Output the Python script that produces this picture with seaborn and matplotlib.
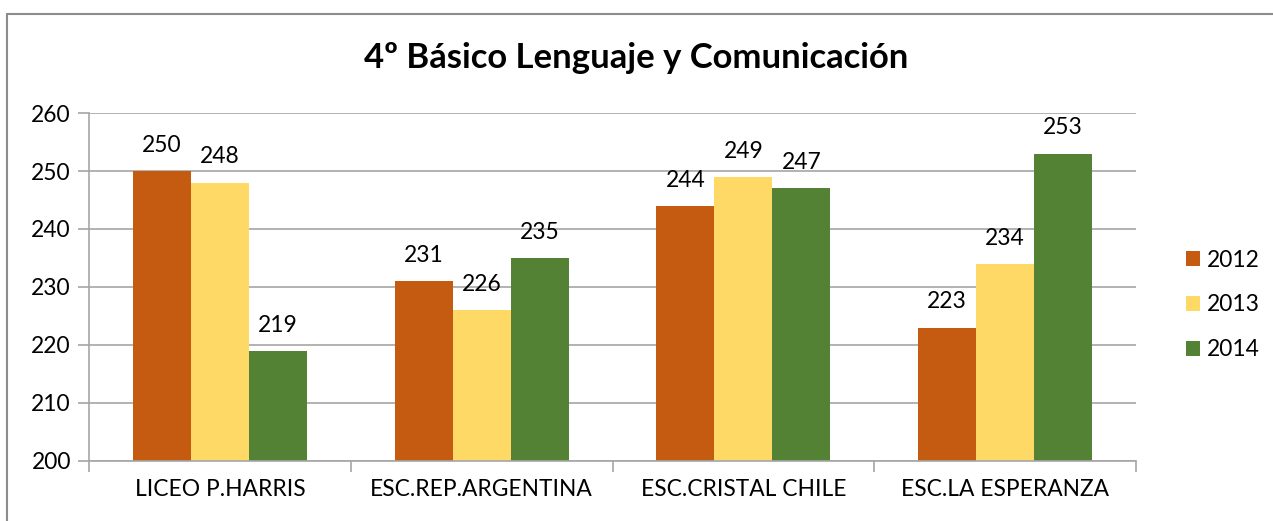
import numpy as np
import pandas as pd
import matplotlib
matplotlib.use("Agg")
import matplotlib.pyplot as plt
from matplotlib.lines import Line2D
from matplotlib.ticker import FixedLocator
import seaborn as sns

schools = ["LICEO P.HARRIS", "ESC.REP.ARGENTINA", "ESC.CRISTAL CHILE", "ESC.LA ESPERANZA"]
years = ["2012", "2013", "2014"]
scores_2012 = [250, 231, 244, 223]
scores_2013 = [248, 226, 249, 234]
scores_2014 = [219, 235, 247, 253]
colors = ["#C55A11", "#FFD966", "#548235"]

df = pd.DataFrame({
    "school": schools * 3,
    "year": np.repeat(years, len(schools)),
    "score": scores_2012 + scores_2013 + scores_2014,
})

sns.set_style("white")
plt.rcParams["font.family"] = ["Lato", "DejaVu Sans"]
plt.rcParams["text.color"] = "black"

fig = plt.figure(figsize=(12.73, 5.21), dpi=100)
ax = fig.add_axes([0.0699, 0.1152, 0.8225, 0.6679])

sns.barplot(data=df, x="school", y="score", hue="year", palette=colors,
            width=0.664, gap=0, saturation=1, ax=ax, errorbar=None, linewidth=0)

for c in ax.containers:
    ax.bar_label(c, fmt="%d", padding=11, fontsize=16.4, color="black")

ax.set_ylim(200, 260)
ax.set_yticks(range(200, 261, 10))
ax.set_xlim(-0.5, 3.5)
ax.yaxis.grid(True, color="#a6a6a6", linewidth=1.2)
ax.set_axisbelow(True)
ax.set_xlabel("")
ax.set_ylabel("")
ax.tick_params(axis="both", labelsize=16.4, labelcolor="black")
ax.tick_params(axis="x", length=0, pad=13)
ax.tick_params(axis="y", length=8, width=1.2, color="#a6a6a6", direction="out", left=True, pad=5)
ax.xaxis.set_minor_locator(FixedLocator([-0.5, 0.5, 1.5, 2.5, 3.5]))
ax.tick_params(axis="x", which="minor", length=8, width=1.2, color="#a6a6a6", direction="out", bottom=True)

for s in ["top", "right"]:
    ax.spines[s].set_visible(False)
for s in ["left", "bottom"]:
    ax.spines[s].set_color("#a6a6a6")
    ax.spines[s].set_linewidth(1.2)

leg = ax.legend(loc="center left", bbox_to_anchor=(0.923, 0.4146), bbox_transform=fig.transFigure,
                frameon=False, fontsize=16.4, handlelength=0.6, handleheight=0.6,
                labelspacing=1.05, handletextpad=0.3, borderpad=0)
for t in leg.get_texts():
    t.set_color("black")

fig.suptitle("4º Básico Lenguaje y Comunicación", y=0.889, va="center",
             fontsize=24.9, fontweight="bold", color="black")

fig.add_artist(Line2D([0.0055, 1.0], [0.9731, 0.9731], transform=fig.transFigure,
                      color="#8c8c8c", linewidth=1.5))
fig.add_artist(Line2D([0.0055, 0.0055], [0.0, 0.9731], transform=fig.transFigure,
                      color="#8c8c8c", linewidth=1.5))

fig.savefig("out.png", dpi=100)
